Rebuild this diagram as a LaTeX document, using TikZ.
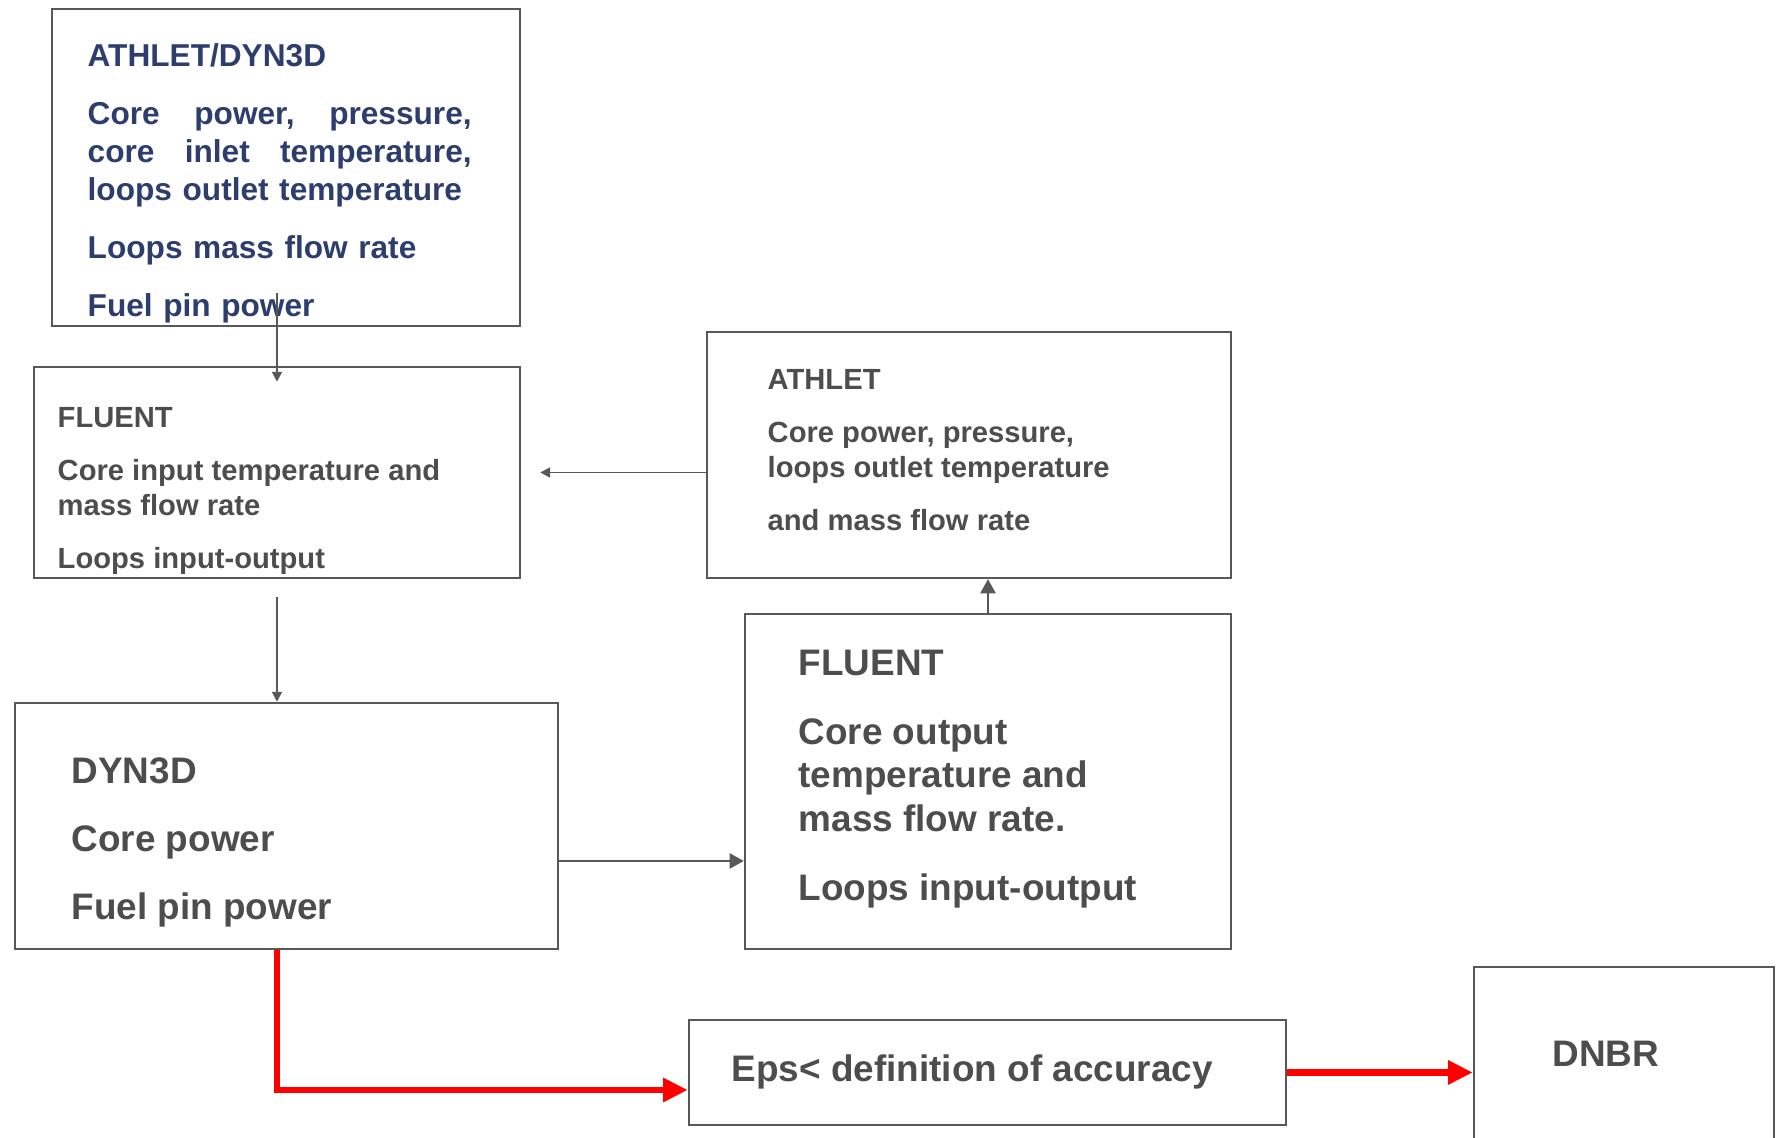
\documentclass[tikz,border=0pt]{standalone}
\usepackage{fontspec}
\setmainfont{Liberation Sans}
\usetikzlibrary{arrows.meta}
\definecolor{boxgray}{RGB}{88,88,88}
\definecolor{txtgray}{RGB}{77,77,77}
\definecolor{txtblue}{RGB}{45,62,110}

\begin{document}
\begin{tikzpicture}[scale=1.0,
  box/.style={draw=boxgray,line width=0.7pt,inner sep=0pt},
  txt/.style={anchor=north west,inner sep=0pt,align=left,text=txtgray},
  arr/.style={draw=boxgray,line width=0.55pt,-{Triangle[length=2.8pt,width=2.8pt]}},
  bigarr/.style={draw=boxgray,line width=0.55pt,-{Triangle[length=4pt,width=4.3pt]}},
  redarr/.style={draw=red,line width=1.85pt,-{Triangle[length=7pt,width=6.5pt]}}]
\clip (0,0) rectangle (17.77,11.38);

\node[box,minimum width=4.68cm,minimum height=3.17cm] (athdyn) at (2.86,9.705) {};
\node[box,minimum width=4.86cm,minimum height=2.11cm] (fluentin) at (2.77,6.655) {};
\node[box,minimum width=5.24cm,minimum height=2.46cm] (athlet) at (9.69,6.83) {};
\node[box,minimum width=5.43cm,minimum height=2.46cm] (dyn) at (2.865,3.12) {};
\node[box,minimum width=4.86cm,minimum height=3.35cm] (fluentout) at (9.88,3.565) {};
\node[box,minimum width=5.97cm,minimum height=1.05cm] (eps) at (9.875,0.655) {};
\node[box,minimum width=3.00cm,minimum height=3.00cm] (dnbr) at (16.24,0.21) {};

\node[txt,text=txtblue,text width=3.84cm,font=\bfseries\fontsize{9}{10.7}\selectfont] (athdyntxt) at (0.87,10.95)
  {ATHLET/DYN3D\\[5.9pt]
   Core\hfill power,\hfill pressure,\\
   core\hfill inlet\hfill temperature,\\
   loops outlet temperature\\[5.9pt]
   Loops mass flow rate\\[5.9pt]
   Fuel pin power};
\node[txt,font=\bfseries\fontsize{8.3}{10}\selectfont] (fluentintxt) at (0.57,7.314)
  {FLUENT\\[5.1pt]
   Core input temperature and\\
   mass flow rate\\[5.1pt]
   Loops input-output};
\node[txt,font=\bfseries\fontsize{8.3}{10}\selectfont] (athlettxt) at (7.67,7.694)
  {ATHLET\\[5.1pt]
   Core power, pressure,\\
   loops outlet temperature\\[5.1pt]
   and mass flow rate};
\node[txt,font=\bfseries\fontsize{10.5}{12.5}\selectfont] (dyntxt) at (0.71,3.812)
  {DYN3D\\[6.9pt]
   Core power\\[6.9pt]
   Fuel pin power};
\node[txt,font=\bfseries\fontsize{10.5}{12.5}\selectfont] (fluentouttxt) at (7.98,4.882)
  {FLUENT\\[6.9pt]
   Core output\\
   temperature and\\
   mass flow rate.\\[6.9pt]
   Loops input-output};
\node[txt,anchor=west,font=\bfseries\fontsize{10.5}{12.5}\selectfont] (epstxt) at (7.31,0.66) {Eps< definition of accuracy};
\node[txt,anchor=center,font=\bfseries\fontsize{10.5}{12.5}\selectfont] (dnbrtxt) at (16.06,0.84) {DNBR};

\coordinate (athdynout) at ([yshift=3.4mm]athdyn.south);
\coordinate (dynout) at ([yshift=-3.5mm]dyn.east);

\draw[arr] (athdynout -| fluentin.north) -- ([yshift=-1.6mm]fluentin.north);
\draw[arr] ([yshift=-1.8mm]fluentin.south) -- (fluentin.south |- dyn.north);
\draw[arr] (athlet.west |- fluentin.east) -- ([xshift=1.9mm]fluentin.east);
\draw[bigarr] (dynout) -- (dynout -| fluentout.west);
\draw[bigarr] (fluentout.north) -- (fluentout.north |- athlet.south);

\draw[redarr] (dyn.south -| fluentin.south) |- ([yshift=-1.75mm]eps.west);
\draw[redarr] (eps.east) -- (eps.east -| dnbr.west);
\end{tikzpicture}
\end{document}
